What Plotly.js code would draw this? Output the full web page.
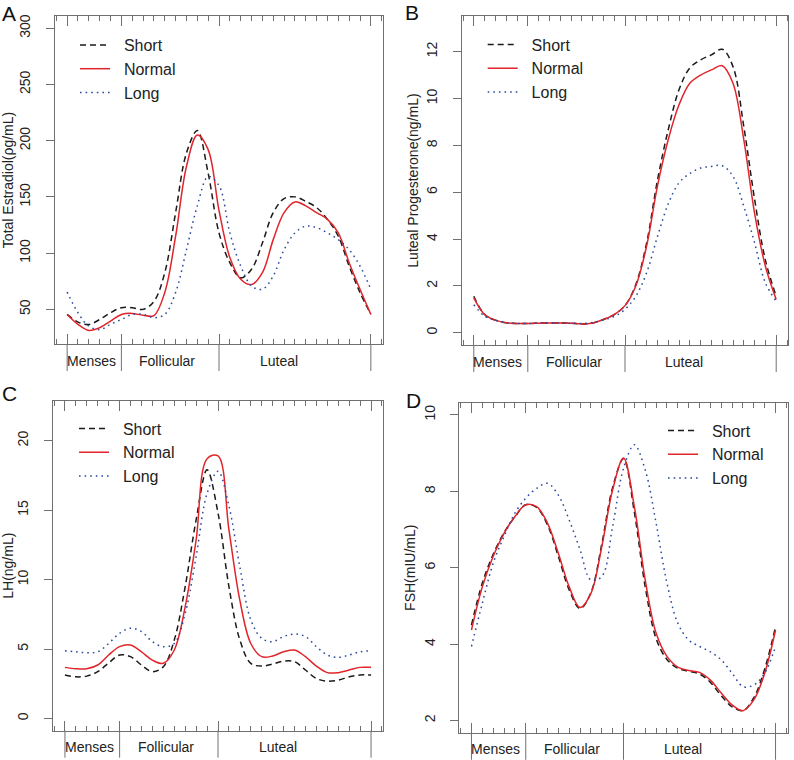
<!DOCTYPE html>
<html>
<head>
<meta charset="utf-8">
<script src="https://cdn.plot.ly/plotly-3.0.1.min.js"></script>
<style>html,body{margin:0;padding:0;background:#fff;}#plot{width:794px;height:760px;}</style>
</head>
<body>
<div id="plot"></div>
<script>
// ---- data ----
const days = [0,1,2,3,4,5,6,7,8,9,10,11,12,13,14,15,16,17,18,19,20,21,22,23,24,25,26,27,28];
const seriesNames = ["Short", "Normal", "Long"];
const phaseBounds = [0, 5, 14, 28];
const phaseNames = ["Menses", "Follicular", "Luteal"];
const phaseLabelDay = [2.2, 9.25, 19.5];

// A: Total Estradiol (pg/mL)
const e2Short  = [45.5,38.7,36.5,41,47,51.5,51.5,50,57,82.6,136,189,209,171,118,91.5,78,85.6,109,136,148.5,150,146,140.5,130,115,88.5,65,45.5];
const e2Normal = [45.5,36.7,31.3,33.7,39.6,45.5,46.4,44.7,44.5,65,115,177,205,192,138,96,76.7,72,82.6,112,136,145.5,142,136,130,118,91.5,67.8,45.5];
const e2Long   = [65.4,47,35,32,36.7,41,45.5,45.5,42.6,45.5,65,103,142,168,160,118,88.6,70.8,67.8,79.7,103,118,124,122.7,118,112,103,88.5,67.8];

// B: Luteal Progesterone (ng/mL)
const pgShort  = [1.56,0.78,0.54,0.43,0.40,0.40,0.41,0.42,0.42,0.41,0.38,0.42,0.57,0.78,1.16,2.06,3.83,6.5,8.66,10.37,11.3,11.65,11.86,12.1,11.36,8.8,5.7,3.1,1.56];
const pgNormal = [1.49,0.78,0.54,0.43,0.40,0.40,0.41,0.42,0.42,0.41,0.38,0.42,0.57,0.78,1.16,2.0,3.7,6.25,8.24,9.73,10.65,11.0,11.22,11.4,10.65,8.24,5.1,2.84,1.42];
const pgLong   = [1.2,0.71,0.54,0.43,0.40,0.40,0.41,0.42,0.42,0.41,0.40,0.44,0.55,0.7,1.0,1.56,2.56,4.1,5.5,6.4,6.8,7.03,7.1,7.13,6.68,5.4,3.84,2.13,1.35];

// C: LH (ng/mL)
const lhShort  = [3.13,3.0,3.05,3.37,4.0,4.57,4.45,3.85,3.37,3.73,5.65,9.5,14.3,17.9,14.8,9.5,5.65,3.97,3.77,3.92,4.13,4.09,3.49,2.88,2.69,2.76,3.0,3.13,3.13];
const lhNormal = [3.68,3.58,3.58,3.85,4.57,5.17,5.29,4.8,4.2,3.97,4.93,8.05,12.86,18.7,18.9,13.6,8.5,5.4,4.45,4.5,4.8,4.93,4.45,3.77,3.3,3.3,3.49,3.68,3.68];
const lhLong   = [4.88,4.8,4.73,4.8,5.4,6.13,6.5,6.25,5.53,5.17,5.4,7.57,11.66,16.2,17.8,15.3,10.9,7.1,5.77,5.53,5.9,6.08,5.9,5.17,4.57,4.4,4.57,4.8,4.88];

// D: FSH (mIU/mL)
const fshShort  = [4.5,5.6,6.35,6.92,7.33,7.65,7.58,7.12,6.3,5.42,4.93,5.35,6.62,8.1,8.85,7.45,5.5,4.15,3.6,3.37,3.29,3.22,3.0,2.65,2.36,2.26,2.6,3.35,4.45];
const fshNormal = [4.37,5.5,6.3,6.9,7.34,7.65,7.6,7.17,6.38,5.5,4.96,5.33,6.55,8.04,8.87,7.6,5.68,4.29,3.68,3.4,3.31,3.26,3.06,2.72,2.41,2.26,2.54,3.24,4.37];
const fshLong   = [3.94,5.07,6.12,6.82,7.43,7.82,8.08,8.21,7.9,7.25,6.47,5.68,5.77,7.08,8.6,9.22,8.56,7.17,5.6,4.55,4.11,3.94,3.8,3.59,3.24,2.89,2.93,3.24,3.94];

const yTitles = ["Total Estradiol(\u03c1g/mL)", "Luteal Progesterone(ng/mL)", "LH(ng/mL)", "FSH(mIU/mL)"];
const panelLetters = ["A", "B", "C", "D"];

// ---- styling / layout ----
const colors = ["#1a1a1a", "#e0252b", "#2a4a9c"];
const dashes = ["6px,4px", "solid", "1.6px,4px"];
const frameColor = "#707070";
const textColor = "#222";
const FONT = "Liberation Sans, Arial, sans-serif";
const W = 794, H = 760;
const PAD = "\u00a0\u00a0";

const panels = [
  {data:[e2Short,e2Normal,e2Long], box:[55,383,16,344], yr:[19.2,310.8], tick0:50, dtick:50, leg:[75,28], letter:[9,14]},
  {data:[pgShort,pgNormal,pgLong], box:[461.7,788.3,16,345], yr:[-0.52,13.52], tick0:0, dtick:2, leg:[482.7,27.5], letter:[412,13]},
  {data:[lhShort,lhNormal,lhLong], box:[52.7,383.3,400.7,730.7], yr:[-0.88,22.88], tick0:0, dtick:5, leg:[74,411.5], letter:[9,393]},
  {data:[fshShort,fshNormal,fshLong], box:[459.3,787.7,402.7,732.8], yr:[1.68,10.32], tick0:2, dtick:2, leg:[663,413.5], letter:[413.5,400]}
];

const traces = [];
const layout = {
  width: W, height: H,
  margin: {l:0, r:0, t:0, b:0},
  paper_bgcolor: "#fff", plot_bgcolor: "#fff",
  font: {family: FONT, color: textColor, size: 14},
  annotations: [], shapes: []
};

panels.forEach((p, i) => {
  const n = i === 0 ? "" : String(i + 1);
  const xa = "x" + n, ya = "y" + n;
  const legName = "legend" + n;
  p.data.forEach((vals, s) => {
    traces.push({
      type: "scatter", mode: "lines",
      x: days, y: vals, name: PAD + seriesNames[s],
      xaxis: xa, yaxis: ya, legend: legName,
      line: {color: colors[s], width: 1.5, dash: dashes[s], shape: "spline", smoothing: 1},
      hoverinfo: "skip"
    });
  });
  const [x0, x1, yt, yb] = p.box;
  layout["xaxis" + n] = {
    domain: [x0 / W, x1 / W], anchor: ya,
    range: [-1.12, 29.12], showgrid: false, zeroline: false,
    showline: true, linecolor: frameColor, linewidth: 1, mirror: "allticks",
    tickmode: "array", tickvals: phaseBounds, ticks: "inside", ticklen: 10, tickwidth: 1, tickcolor: frameColor,
    showticklabels: false,
    minor: {dtick: 1, tick0: 0, ticks: "inside", ticklen: 5, tickwidth: 1, tickcolor: frameColor, showgrid: false}
  };
  layout["yaxis" + n] = {
    domain: [1 - yb / H, 1 - yt / H], anchor: xa,
    range: p.yr, showgrid: false, zeroline: false,
    showline: true, linecolor: frameColor, linewidth: 1, mirror: true,
    tick0: p.tick0, dtick: p.dtick, ticks: "outside", ticklen: 8, tickwidth: 1, tickcolor: frameColor,
    tickangle: -90, tickfont: {size: 14, color: textColor}, ticklabelstandoff: 10,
    title: {text: yTitles[i], font: {size: 14, color: textColor}, standoff: 2}
  };
  layout[legName] = {
    x: p.leg[0] / W, y: 1 - p.leg[1] / H, xanchor: "left", yanchor: "top",
    bgcolor: "rgba(0,0,0,0)", borderwidth: 0, itemwidth: 30,
    font: {size: 16, color: textColor}, itemclick: false, itemdoubleclick: false
  };
  // phase boundary lines below the frame
  phaseBounds.forEach(b => {
    layout.shapes.push({type: "line", xref: xa, yref: ya + " domain", x0: b, x1: b, y0: 0, y1: -27 / (yb - yt),
      line: {color: frameColor, width: 1}});
  });
  phaseNames.forEach((nm, k) => {
    layout.annotations.push({xref: xa, yref: ya + " domain", x: phaseLabelDay[k], y: -16.5 / (yb - yt),
      text: nm, showarrow: false, xanchor: "center", yanchor: "middle", font: {size: 14, color: textColor}});
  });
  layout.annotations.push({xref: "paper", yref: "paper", x: p.letter[0] / W, y: 1 - p.letter[1] / H,
    text: panelLetters[i], showarrow: false, xanchor: "center", yanchor: "middle", font: {size: 21, color: "#111"}});
});

Plotly.newPlot("plot", traces, layout, {displayModeBar: false, staticPlot: true});
</script>
</body>
</html>
